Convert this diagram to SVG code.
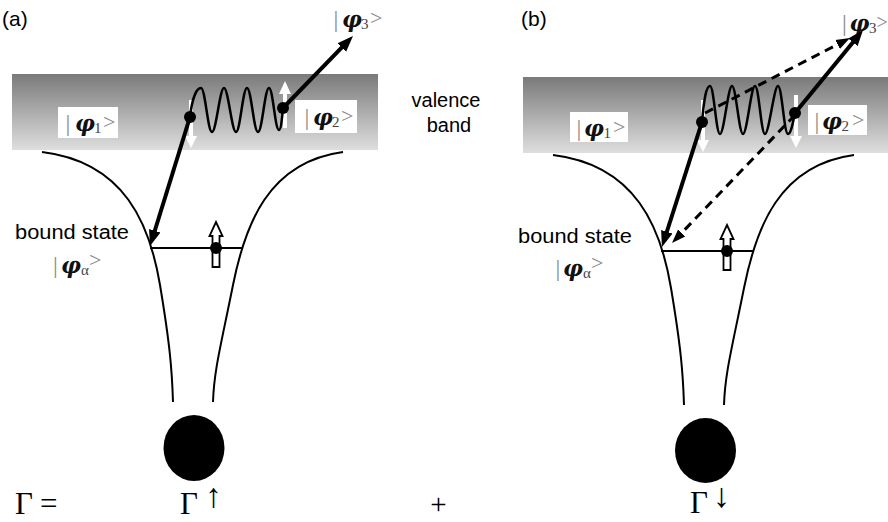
<svg xmlns="http://www.w3.org/2000/svg" width="888" height="522" viewBox="0 0 888 522">
<defs>
<linearGradient id="band" x1="0" y1="0" x2="0" y2="1">
<stop offset="0" stop-color="#7a7a7a"/>
<stop offset="1" stop-color="#dedede"/>
</linearGradient>
<marker id="ah" markerUnits="userSpaceOnUse" viewBox="0 0 16 14" markerWidth="16" markerHeight="14" refX="6" refY="7" orient="auto"><path d="M0,1 L16,7 L0,13 z" fill="#000"/></marker>
<marker id="ahd" markerUnits="userSpaceOnUse" viewBox="0 0 14 12" markerWidth="14" markerHeight="12" refX="4" refY="6" orient="auto"><path d="M0,1 L14,6 L0,11 z" fill="#000"/></marker>
</defs>
<style>
.lbl{font-family:"Liberation Sans",Arial,sans-serif;font-size:20px;fill:#000}
.ket{font-family:"Liberation Serif","Times New Roman",serif;font-size:24px;fill:#111}
.bar{fill:#888}
.phi{font-family:"DejaVu Serif","Liberation Serif",serif;font-style:italic;font-weight:bold;font-size:22px}
.sub{font-size:15px;fill:#444}
.br{fill:#888;font-size:22px}
.math{font-family:"Liberation Serif","Times New Roman",serif;font-size:31px;fill:#000}
.ar{font-size:34px}
.curve{fill:none;stroke:#000;stroke-width:2}
.wave{fill:none;stroke:#000;stroke-width:2.5}
.arr{stroke:#000;stroke-width:4;fill:none;marker-end:url(#ah)}
.darr{stroke:#000;stroke-width:3;fill:none;stroke-dasharray:9 6;marker-end:url(#ahd)}
.wa{fill:#fff}
.open{fill:#fff;stroke:#000;stroke-width:1.8}
</style>

<g id="panel-a">
<text class="lbl" x="2" y="26" style="font-size:21px">(a)</text>
<rect id="band-a" x="12" y="74" width="366" height="76" fill="url(#band)"/>
<g id="well-a">
<path class="curve" d="M42,152 C125,162 150,225 160,285 S172,370 173,402"/>
<path class="curve" d="M343,152 C268,162 245,225 233,285 S214,370 213,402"/>
<ellipse cx="194" cy="448" rx="30.5" ry="33" fill="#000"/>
</g>
<g id="bound-a">
<line x1="150" y1="248" x2="243" y2="248" stroke="#000" stroke-width="2"/>
<polygon class="open" points="216,222 222.5,236 219.5,236 219.5,267 212.5,267 212.5,236 209.5,236"/>
<circle cx="216" cy="248" r="6" fill="#000"/>
<text class="lbl" x="15" y="239" textLength="114" lengthAdjust="spacingAndGlyphs">bound state</text>
<text class="ket" y="273"><tspan class="bar" x="53">|</tspan><tspan class="phi" x="61">φ</tspan><tspan class="sub" x="81" dy="2">α</tspan><tspan class="br" x="89" dy="-8">&gt;</tspan></text>
</g>
<g id="ket1-a">
<rect x="58" y="107" width="60" height="31" fill="#fff"/>
<text class="ket" y="131"><tspan class="bar" x="65.5">|</tspan><tspan class="phi" x="75">φ</tspan><tspan class="sub" x="94" dy="2">1</tspan><tspan class="br" x="103" dy="-4">&gt;</tspan></text>
</g>
<g id="ket2-a">
<rect x="295" y="100" width="62" height="33" fill="#fff"/>
<text class="ket" y="125"><tspan class="bar" x="304.5">|</tspan><tspan class="phi" x="313">φ</tspan><tspan class="sub" x="332" dy="2">2</tspan><tspan class="br" x="341" dy="-4">&gt;</tspan></text>
</g>
<g id="ket3-a">
<text class="ket" y="27"><tspan class="bar" x="333.5">|</tspan><tspan class="phi" x="342">φ</tspan><tspan class="sub" x="361" dy="2">3</tspan><tspan class="br" x="370" dy="-4">&gt;</tspan></text>
</g>
<g id="spin-a">
<rect class="wa" x="189" y="100" width="4" height="37"/>
<polygon class="wa" points="185,136 197,136 191,148"/>
<rect class="wa" x="283" y="93" width="4" height="35"/>
<polygon class="wa" points="279,94 291,94 285,81"/>
</g>
<g id="connectors-a">
<path class="wave" d="M190,117 C192,100 196,88 201,88 C205.2,88 207.8,132 212,132 C216.2,132 219.8,88 224,88 C228.2,88 231.8,132 236,132 C240.2,132 242.8,88 247,88 C251.2,88 253.8,132 258,132 C262.2,132 264.8,88 269,88 C273,88 275,130 279,130 C281,130 282,118 283,108"/>
<line class="arr" x1="190" y1="117" x2="153" y2="236.5"/>
<line class="arr" x1="283" y1="108" x2="346" y2="43.2"/>
<circle cx="190" cy="117" r="6" fill="#000"/>
<circle cx="283" cy="108" r="6" fill="#000"/>
</g>
</g>

<text class="lbl" x="446" y="107" text-anchor="middle">valence</text>
<text class="lbl" x="449" y="132" text-anchor="middle">band</text>

<g id="panel-b">
<text class="lbl" x="521" y="26" style="font-size:21px">(b)</text>
<rect id="band-b" x="523" y="77" width="365" height="76" fill="url(#band)"/>
<g id="well-b" transform="translate(511,3)">
<path class="curve" d="M42,152 C125,162 150,225 160,285 S172,370 173,402"/>
<path class="curve" d="M343,152 C268,162 245,225 233,285 S214,370 213,402"/>
<ellipse cx="194.5" cy="447.5" rx="30.5" ry="32.5" fill="#000"/>
</g>
<g id="bound-b">
<line x1="661" y1="251" x2="754" y2="251" stroke="#000" stroke-width="2"/>
<polygon class="open" points="727,225 733.5,239 730.5,239 730.5,270 723.5,270 723.5,239 720.5,239"/>
<circle cx="727" cy="251" r="6" fill="#000"/>
<text class="lbl" x="518" y="243" textLength="114" lengthAdjust="spacingAndGlyphs">bound state</text>
<text class="ket" y="276"><tspan class="bar" x="555.5">|</tspan><tspan class="phi" x="563">φ</tspan><tspan class="sub" x="583" dy="2">α</tspan><tspan class="br" x="591" dy="-8">&gt;</tspan></text>
</g>
<g id="ket1-b">
<rect x="570" y="112" width="58" height="30" fill="#fff"/>
<text class="ket" y="136"><tspan class="bar" x="576.5">|</tspan><tspan class="phi" x="584">φ</tspan><tspan class="sub" x="603.5" dy="2">1</tspan><tspan class="br" x="613" dy="-4">&gt;</tspan></text>
</g>
<g id="ket2-b">
<rect x="808" y="105" width="59" height="30" fill="#fff"/>
<text class="ket" y="129"><tspan class="bar" x="814.5">|</tspan><tspan class="phi" x="822">φ</tspan><tspan class="sub" x="841.5" dy="2">2</tspan><tspan class="br" x="852" dy="-4">&gt;</tspan></text>
</g>
<g id="ket3-b">
<text class="ket" y="31"><tspan class="bar" x="842">|</tspan><tspan class="phi" x="849.5">φ</tspan><tspan class="sub" x="869" dy="2">3</tspan><tspan class="br" x="876.5" dy="-4" style="font-size:20px">&gt;</tspan></text>
</g>
<g id="spin-b">
<rect class="wa" x="701" y="100" width="4" height="41"/>
<polygon class="wa" points="697,140 709,140 703,152"/>
<rect class="wa" x="794" y="95" width="4" height="42"/>
<polygon class="wa" points="790,136 802,136 796,148"/>
</g>
<g id="connectors-b">
<path class="wave" d="M702,122 C704,100 706,86 710,86 C714,86 716,134 720,134 C724,134 728,86 732,86 C736,86 739,134 743,134 C747,134 751,86 755,86 C759,86 761,134 765,134 C769,134 774,86 778,86 C782,86 784,134 788,134 C791,134 793,122 795,113"/>
<line class="darr" x1="705" y1="113" x2="841.1" y2="42.6"/>
<line class="darr" x1="795" y1="115" x2="678.9" y2="235.8"/>
<line class="arr" x1="702" y1="122" x2="665" y2="237.5"/>
<line class="arr" x1="795" y1="113" x2="856.7" y2="37.7"/>
<circle cx="702" cy="122" r="6" fill="#000"/>
<circle cx="795" cy="113" r="6" fill="#000"/>
</g>
</g>

<g id="equation">
<text class="math" x="15" y="514">Γ<tspan x="40">=</tspan></text>
<text class="math" x="180" y="514">Γ<tspan class="ar" x="205" y="507">↑</tspan></text>
<text class="math" x="438.5" y="514" text-anchor="middle" style="font-size:29px">+</text>
<text class="math" x="690" y="513">Γ<tspan class="ar" x="713" y="507">↓</tspan></text>
</g>
</svg>
